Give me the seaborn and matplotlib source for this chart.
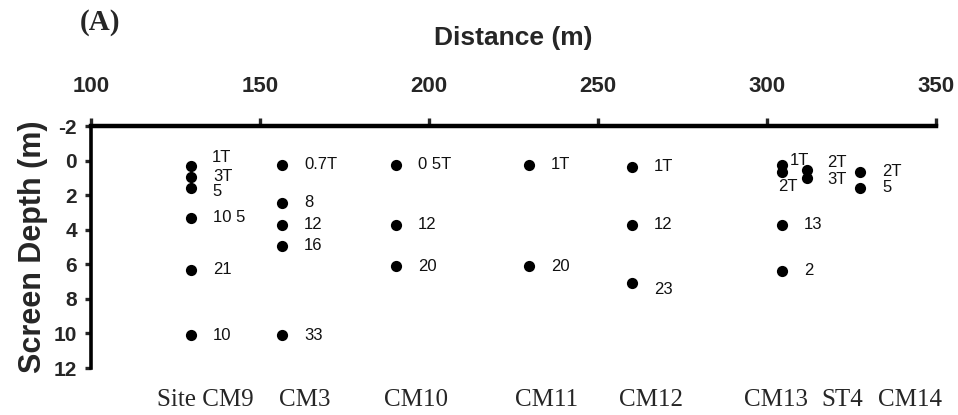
import matplotlib
matplotlib.use("Agg")
import matplotlib.pyplot as plt
import seaborn as sns
import pandas as pd

# ---- data ----
sites = ["CM9", "CM3", "CM10", "CM11", "CM12", "CM13", "ST4", "CM14"]
site_distance = [129.6, 156.5, 190.2, 229.6, 260.1, 304.4, 311.8, 327.5]
site_depths = [
    [0.31, 0.95, 1.58, 3.32, 6.32, 10.1],
    [0.25, 2.45, 3.72, 4.94, 10.1],
    [0.25, 3.72, 6.1],
    [0.25, 6.1],
    [0.37, 3.72, 7.07],
    [0.25, 0.66, 3.72, 6.38],
    [0.54, 1.0],
    [0.66, 1.58],
]
site_values = [
    ["1T", "3T", "5", "10 5", "21", "10"],
    ["0.7T", "8", "12", "16", "33"],
    ["0 5T", "12", "20"],
    ["1T", "20"],
    ["1T", "12", "23"],
    ["1T", "2T", "13", "2"],
    ["2T", "3T"],
    ["2T", "5"],
]
bottom_labels = ["Site CM9", "CM3", "CM10", "CM11", "CM12", "CM13", "ST4", "CM14"]
x_ticks = [100, 150, 200, 250, 300, 350]
y_ticks = [-2, 0, 2, 4, 6, 8, 10, 12]

# label offsets in pixels (dx, dy up positive); default (22, 0)
special_offsets = {
    ("CM9", 0): (21, 8), ("CM9", 2): (21, -4),
    ("CM12", 2): (22, -7),
    ("CM13", 0): (8, 4), ("CM13", 1): (-4, -15),
    ("ST4", 0): (20, 7), ("ST4", 1): (20, -2),
}
bottom_label_x = [133.7, 163.3, 196.2, 234.9, 265.7, 302.7, 322.2, 342.3]

rows = []
for s, d, deps, vals in zip(sites, site_distance, site_depths, site_values):
    for i, (dep, v) in enumerate(zip(deps, vals)):
        rows.append({"site": s, "distance": d, "depth": dep, "label": v, "idx": i})
df = pd.DataFrame(rows)

sns.set_style("white")
plt.rcParams["font.family"] = ["Liberation Sans", "DejaVu Sans"]
plt.rcParams["axes.unicode_minus"] = False

fig = plt.figure(figsize=(9.58, 4.15), dpi=100)
ax = fig.add_axes([91 / 958, 1 - 368 / 415, (936 - 91) / 958, (368 - 126) / 415])

sns.scatterplot(data=df, x="distance", y="depth", ax=ax, color="black",
                s=65, edgecolor="black", linewidth=0, zorder=3, legend=False)

for _, r in df.iterrows():
    dx, dy = special_offsets.get((r["site"], r["idx"]), (22, 0))
    ax.annotate(r["label"], (r["distance"], r["depth"]), xytext=(dx, dy),
                textcoords="offset pixels", ha="left", va="center",
                fontsize=12, color="#111111")

ax.set_xlim(100, 350)
ax.set_ylim(12, -2)
ax.set_xticks(x_ticks)
ax.set_yticks(y_ticks)
ax.xaxis.tick_top()
ax.xaxis.set_label_position("top")
ax.set_xlabel("")
ax.set_ylabel("Screen Depth (m)", fontsize=22, fontweight="bold", labelpad=4)

for sp in ["right", "bottom"]:
    ax.spines[sp].set_visible(False)
ax.spines["top"].set_linewidth(3.2)
ax.spines["left"].set_linewidth(2.6)
for sp in ["top", "left"]:
    ax.spines[sp].set_color("black")

ax.tick_params(axis="x", which="major", direction="out", length=6, width=2.4,
               labelsize=16, pad=15, top=True, bottom=False, labeltop=True, labelbottom=False)
ax.tick_params(axis="y", which="major", direction="out", length=4, width=2.4,
               labelsize=15, pad=6, left=True)
for lab in ax.get_xticklabels() + ax.get_yticklabels():
    lab.set_fontweight("bold")

for lx, txt in zip(bottom_label_x, bottom_labels):
    ax.text(lx, -0.157, txt, transform=ax.get_xaxis_transform(), ha="center", va="baseline",
            fontsize=18, family=["Liberation Serif", "DejaVu Serif"])

fig.text(513 / 958, 1 - 38 / 415, "Distance (m)", ha="center", va="center",
         fontsize=19, fontweight="bold")
fig.text(100 / 958, 1 - 22 / 415, "(A)", ha="center", va="center",
         fontsize=21, fontweight="bold", family=["Liberation Serif", "DejaVu Serif"])

fig.savefig("out.png", dpi=100, facecolor="white")
